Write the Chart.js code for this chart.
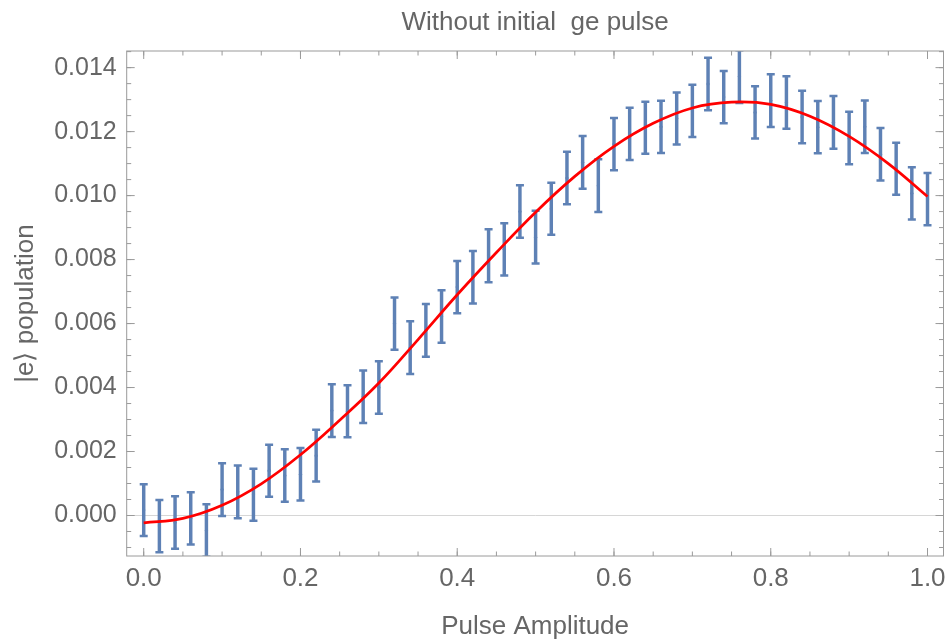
<!DOCTYPE html>
<html>
<head>
<meta charset="utf-8">
<script src="https://cdn.jsdelivr.net/npm/chart.js@4/dist/chart.umd.min.js"></script>
<style>
html,body{margin:0;padding:0;background:#ffffff;}
#wrap{width:950px;height:644px;}
</style>
</head>
<body>
<div id="wrap"><canvas id="c" width="950" height="644"></canvas></div>
<script>
// ---- text ----
const titleText = 'Without initial  ge pulse';
const xAxisTitle = 'Pulse Amplitude';
const yAxisTitle = '|e⟩ population';

// ---- tick labels ----
const xTickValues = [0, 0.2, 0.4, 0.6, 0.8, 1.0];
const xTickLabels = ['0.0', '0.2', '0.4', '0.6', '0.8', '1.0'];
const yTickValues = [0, 0.002, 0.004, 0.006, 0.008, 0.010, 0.012, 0.014];
const yTickLabels = ['0.000', '0.002', '0.004', '0.006', '0.008', '0.010', '0.012', '0.014'];

// ---- measured data (error bars) ----
const amplitudes = [0.00, 0.02, 0.04, 0.06, 0.08, 0.10, 0.12, 0.14, 0.16, 0.18,
                    0.20, 0.22, 0.24, 0.26, 0.28, 0.30, 0.32, 0.34, 0.36, 0.38,
                    0.40, 0.42, 0.44, 0.46, 0.48, 0.50, 0.52, 0.54, 0.56, 0.58,
                    0.60, 0.62, 0.64, 0.66, 0.68, 0.70, 0.72, 0.74, 0.76, 0.78,
                    0.80, 0.82, 0.84, 0.86, 0.88, 0.90, 0.92, 0.94, 0.96, 0.98, 1.00];
const population = [0.00017, -0.00033, -0.00022, -0.00009, -0.00047, 0.00081, 0.00074, 0.00065, 0.00140, 0.00125,
                    0.00129, 0.00187, 0.00328, 0.00326, 0.00371, 0.00400, 0.00600, 0.00525, 0.00579, 0.00622,
                    0.00714, 0.00745, 0.00812, 0.00832, 0.00950, 0.00870, 0.00959, 0.01055, 0.01104, 0.01031,
                    0.01161, 0.01193, 0.01212, 0.01215, 0.01241, 0.01265, 0.01349, 0.01308, 0.01372, 0.01260,
                    0.01297, 0.01291, 0.01246, 0.01214, 0.01229, 0.01180, 0.01215, 0.01129, 0.01084, 0.01007, 0.00989];
const popError = [0.00081, 0.000815, 0.00082, 0.00082, 0.00082, 0.000825, 0.000825, 0.000815, 0.000815, 0.00082,
                  0.00082, 0.00081, 0.000825, 0.000815, 0.00082, 0.00082, 0.000815, 0.000825, 0.000825, 0.00082,
                  0.000815, 0.00082, 0.000825, 0.000815, 0.00082, 0.000825, 0.000815, 0.00082, 0.000825, 0.000825,
                  0.000815, 0.000815, 0.000815, 0.000815, 0.000815, 0.000815, 0.00082, 0.000815, 0.000825, 0.000815,
                  0.000825, 0.00082, 0.00082, 0.00082, 0.000825, 0.00082, 0.00082, 0.00082, 0.000815, 0.000815, 0.000815];

// ---- fitted curve ----
const fitAmplitudes = [0.00, 0.05, 0.10, 0.15, 0.20, 0.25, 0.30, 0.35, 0.40, 0.45,
                       0.50, 0.55, 0.60, 0.65, 0.70, 0.75, 0.80, 0.85, 0.90, 0.95, 1.00];
const fitPopulation = [-0.00023, -0.00009, 0.00032, 0.00099, 0.00190, 0.00298, 0.00414, 0.00550, 0.00690, 0.00822,
                       0.00948, 0.01060, 0.01154, 0.01226, 0.01274, 0.01292, 0.01285, 0.01248, 0.01185, 0.01100, 0.00997];

const FONT = "'Liberation Sans', Arial, Helvetica, sans-serif";
const TEXT = '#666666';
const BLUE = '#5E81B5';
const FRAME = '#9a9a9a';

const stems = amplitudes.map((x, i) => ({x: x, y: [population[i] - popError[i], population[i] + popError[i]]}));
const caps = [];
amplitudes.forEach((x, i) => {
  caps.push({x: x, y: population[i] - popError[i]});
  caps.push({x: x, y: population[i] + popError[i]});
});
const centers = amplitudes.map((x, i) => ({x: x, y: population[i]}));
const fit = fitAmplitudes.map((x, i) => ({x: x, y: fitPopulation[i]}));

// frame + inward ticks (major & minor), positioned through the chart's scales
const framePlugin = {
  id: 'frameTicks',
  afterDraw(chart) {
    const {ctx, chartArea: a, scales: {x, y}} = chart;
    ctx.save();
    ctx.strokeStyle = FRAME;
    ctx.lineWidth = 1;
    ctx.strokeRect(a.left, a.top, a.right - a.left, a.bottom - a.top);
    const tickSet = (scale, step, len, horizontal) => {
      const start = Math.ceil((scale.min - 1e-12) / step);
      const end = Math.floor((scale.max + 1e-12) / step);
      for (let k = start; k <= end; k++) {
        const p = scale.getPixelForValue(k * step);
        ctx.beginPath();
        if (horizontal) {
          ctx.moveTo(p, a.bottom); ctx.lineTo(p, a.bottom - len);
          ctx.moveTo(p, a.top); ctx.lineTo(p, a.top + len);
        } else {
          ctx.moveTo(a.left, p); ctx.lineTo(a.left + len, p);
          ctx.moveTo(a.right, p); ctx.lineTo(a.right - len, p);
        }
        ctx.stroke();
      }
    };
    tickSet(x, 0.05, 4.5, true);
    tickSet(x, 0.2, 8, true);
    tickSet(y, 0.0005, 4.5, false);
    tickSet(y, 0.002, 8, false);
    ctx.restore();
  }
};

new Chart(document.getElementById('c'), {
  type: 'scatter',
  data: {
    datasets: [
      {
        type: 'line', data: fit, order: 0,
        borderColor: '#FF0000', borderWidth: 2.7, pointRadius: 0, tension: 0.4, fill: false
      },
      {
        type: 'bar', data: stems, order: 2,
        backgroundColor: BLUE, borderWidth: 0, barThickness: 2.8, grouped: false
      },
      {
        type: 'scatter', data: caps, order: 1,
        pointStyle: 'line', pointRadius: 4, borderColor: BLUE, borderWidth: 2.5, showLine: false
      },
      {
        type: 'scatter', data: centers, order: 1,
        pointStyle: 'circle', pointRadius: 1.6, backgroundColor: BLUE, borderWidth: 0, showLine: false
      }
    ]
  },
  options: {
    responsive: false,
    animation: false,
    devicePixelRatio: 1,
    events: [],
    layout: {padding: {left: 0, right: 6.5, top: 0, bottom: 0}},
    plugins: {
      legend: {display: false},
      tooltip: {enabled: false},
      title: {
        display: true, text: titleText, fullSize: false, color: TEXT,
        font: {family: FONT, size: 26, weight: 'normal'},
        padding: {top: 7.4, bottom: 12.4}
      }
    },
    scales: {
      x: {
        type: 'linear', min: -0.0217, max: 1.0204, offset: false,
        afterBuildTicks: s => { s.ticks = xTickValues.map(v => ({value: v})); },
        afterFit: s => { s.height = 88; s.paddingLeft = 0; s.paddingRight = 0; },
        grid: {display: false, drawTicks: false, offset: false},
        border: {display: false},
        ticks: {
          padding: 7, color: TEXT, maxRotation: 0, autoSkip: false,
          font: {family: FONT, size: 26},
          callback: (v, i) => xTickLabels[i]
        },
        title: {
          display: true, text: xAxisTitle, color: TEXT,
          font: {family: FONT, size: 26}, padding: {top: 0, bottom: 2}
        }
      },
      y: {
        type: 'linear', min: -0.001266, max: 0.01452,
        afterBuildTicks: s => { s.ticks = yTickValues.map(v => ({value: v})); },
        afterFit: s => { s.width = 126.7; s.paddingTop = 0; s.paddingBottom = 0; },
        grid: {
          drawTicks: false, lineWidth: 1,
          color: c => (c.tick && Math.abs(c.tick.value) < 1e-12) ? '#d6d6d6' : 'rgba(0,0,0,0)'
        },
        border: {display: false},
        ticks: {
          padding: 10, color: TEXT, autoSkip: false,
          font: {family: FONT, size: 25},
          callback: (v, i) => yTickLabels[i]
        },
        title: {
          display: true, text: yAxisTitle, color: TEXT,
          font: {family: FONT, size: 26}, padding: {top: 10, bottom: 0}
        }
      }
    }
  },
  plugins: [framePlugin]
});
</script>
</body>
</html>
